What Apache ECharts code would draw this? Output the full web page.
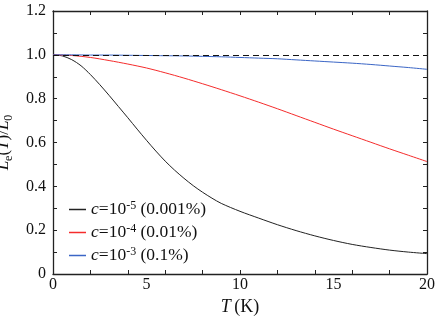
<!DOCTYPE html>
<html>
<head>
<meta charset="utf-8">
<script src="https://cdn.jsdelivr.net/npm/echarts@6/dist/echarts.min.js"></script>
<style>
html,body{margin:0;padding:0;background:#fff;}
#chart{width:436px;height:319px;}
</style>
</head>
<body>
<div id="chart"></div>
<script>
// ---- data ----
var tempsBlack = [0,0.5,1,1.5,2,2.5,3,3.5,4,4.5,5,5.5,6,6.5,7,7.5,8,8.5,9,10,11,12,13,14,15,16,17,18,19,20];
var valuesBlack = [1.0,0.995,0.978,0.95,0.91,0.864,0.815,0.764,0.713,0.661,0.61,0.561,0.515,0.474,0.437,0.403,0.373,0.346,0.322,0.286,0.255,0.225,0.198,0.174,0.153,0.135,0.121,0.109,0.1,0.093];
var temps = [0,1,2,3,4,5,6,7,8,9,10,11,12,13,14,15,16,17,18,19,20];
var valuesRed = [1.0,0.997,0.988,0.974,0.958,0.94,0.918,0.894,0.868,0.841,0.813,0.784,0.754,0.723,0.692,0.661,0.631,0.601,0.571,0.542,0.513];
var valuesBlue = [1.0,1.0,0.999,0.999,0.998,0.997,0.996,0.995,0.993,0.991,0.988,0.985,0.982,0.977,0.972,0.967,0.962,0.956,0.949,0.942,0.934];
var seriesNames = ['c=10-5 (0.001%)','c=10-4 (0.01%)','c=10-3 (0.1%)'];
var legendParts = [['-5',' (0.001%)'],['-4',' (0.01%)'],['-3',' (0.1%)']];
var referenceLevel = 1.0;

function zip(xs, ys){ return xs.map(function(x,i){ return [x, ys[i]]; }); }

var FONT = '"Liberation Serif", "Times New Roman", serif';
var chart = echarts.init(document.getElementById('chart'), null, {renderer:'canvas'});
var axisColor = '#222';

var option = {
  animation: false,
  backgroundColor: '#fff',
  grid: {left: 53, right: 9, top: 11, bottom: 45, containLabel: false, outerBoundsMode: 'none'},
  legend: {
    orient: 'vertical',
    left: 69, top: 200, padding: 0,
    itemWidth: 17, itemHeight: 1.5, itemGap: 4,
    icon: 'rect',
    data: seriesNames,
    formatter: function(name){
      var i = seriesNames.indexOf(name);
      return '{i|c}{n|=10}{sup|' + legendParts[i][0] + '}{n|' + legendParts[i][1] + '}';
    },
    textStyle: {
      fontFamily: FONT, fontSize: 17.5, color: '#111', lineHeight: 19,
      rich: {
        i: {fontFamily: FONT, fontSize: 17.5, fontStyle: 'italic', lineHeight: 19, color:'#111'},
        n: {fontFamily: FONT, fontSize: 17.5, lineHeight: 19, color:'#111'},
        sup: {fontFamily: FONT, fontSize: 12, lineHeight: 13, verticalAlign: 'top', color:'#111'}
      }
    }
  },
  xAxis: [
    {
      type: 'value', position: 'bottom', min: 0, max: 20, interval: 5,
      axisLine: {show: true, onZero: false, lineStyle: {color: axisColor, width: 1.3}},
      axisTick: {show: false},
      splitLine: {show: false},
      axisLabel: {fontFamily: FONT, fontSize: 16, color: '#111', margin: 3},
      name: '{i|T} {n|(K)}', nameLocation: 'middle', nameGap: 17,
      nameTextStyle: {
        rich: {
          i: {fontFamily: FONT, fontSize: 18, fontStyle: 'italic', color:'#111'},
          n: {fontFamily: FONT, fontSize: 18, color:'#111'}
        }
      }
    },
    {
      type: 'value', position: 'bottom', min: 0, max: 20, interval: 2,
      axisLine: {show: false, onZero: false},
      axisTick: {show: true, inside: true, length: 4, lineStyle: {color: axisColor}},
      axisLabel: {show: false}, splitLine: {show: false}
    },
    {
      type: 'value', position: 'top', min: 0, max: 20, interval: 2,
      axisLine: {show: true, onZero: false, lineStyle: {color: axisColor, width: 1.3}},
      axisTick: {show: true, inside: true, length: 4, lineStyle: {color: axisColor}},
      axisLabel: {show: false}, splitLine: {show: false}
    }
  ],
  yAxis: [
    {
      type: 'value', position: 'left', min: 0, max: 1.2, interval: 0.1,
      axisLine: {show: true, onZero: false, lineStyle: {color: axisColor, width: 1.3}},
      axisTick: {show: true, inside: true, length: 4, lineStyle: {color: axisColor}},
      splitLine: {show: false},
      axisLabel: {
        fontFamily: FONT, fontSize: 16, color: '#111', margin: 7,
        formatter: function(v){
          var k = Math.round(v * 10);
          if (k % 2 !== 0) return '';
          return k === 0 ? '0' : (k / 10).toFixed(1);
        }
      },
      name: '{i|L}{sub|e}{n|(}{i|T}{n|)/}{i|L}{sub|0}',
      nameLocation: 'middle', nameGap: 36, nameRotate: 90,
      nameTextStyle: {
        rich: {
          i: {fontFamily: FONT, fontSize: 17, fontStyle: 'italic', lineHeight: 24, color:'#111'},
          n: {fontFamily: FONT, fontSize: 17, lineHeight: 24, color:'#111'},
          sub: {fontFamily: FONT, fontSize: 12, lineHeight: 13, verticalAlign: 'bottom', color:'#111'}
        }
      }
    },
    {
      type: 'value', position: 'right', min: 0, max: 1.2, interval: 0.1,
      axisLine: {show: true, onZero: false, lineStyle: {color: axisColor, width: 1.3}},
      axisTick: {show: true, inside: true, length: 4, lineStyle: {color: axisColor}},
      axisLabel: {show: false}, splitLine: {show: false}
    }
  ],
  series: [
    {
      name: seriesNames[0], type: 'line', data: zip(tempsBlack, valuesBlack),
      smooth: 0.3, showSymbol: false, symbol: 'none',
      lineStyle: {color: '#222', width: 1}, itemStyle: {color: '#222'},
      markLine: {
        silent: true, symbol: 'none', label: {show: false},
        lineStyle: {color: '#111', width: 1, type: [6, 4]},
        data: [{yAxis: referenceLevel}]
      },
      z: 3
    },
    {
      name: seriesNames[1], type: 'line', data: zip(temps, valuesRed),
      smooth: 0.3, showSymbol: false, symbol: 'none',
      lineStyle: {color: '#f52c2c', width: 1}, itemStyle: {color: '#f52c2c'}
    },
    {
      name: seriesNames[2], type: 'line', data: zip(temps, valuesBlue),
      smooth: 0.3, showSymbol: false, symbol: 'none',
      lineStyle: {color: '#3b66c6', width: 1}, itemStyle: {color: '#3b66c6'}
    }
  ]
};
chart.setOption(option);
</script>
</body>
</html>
